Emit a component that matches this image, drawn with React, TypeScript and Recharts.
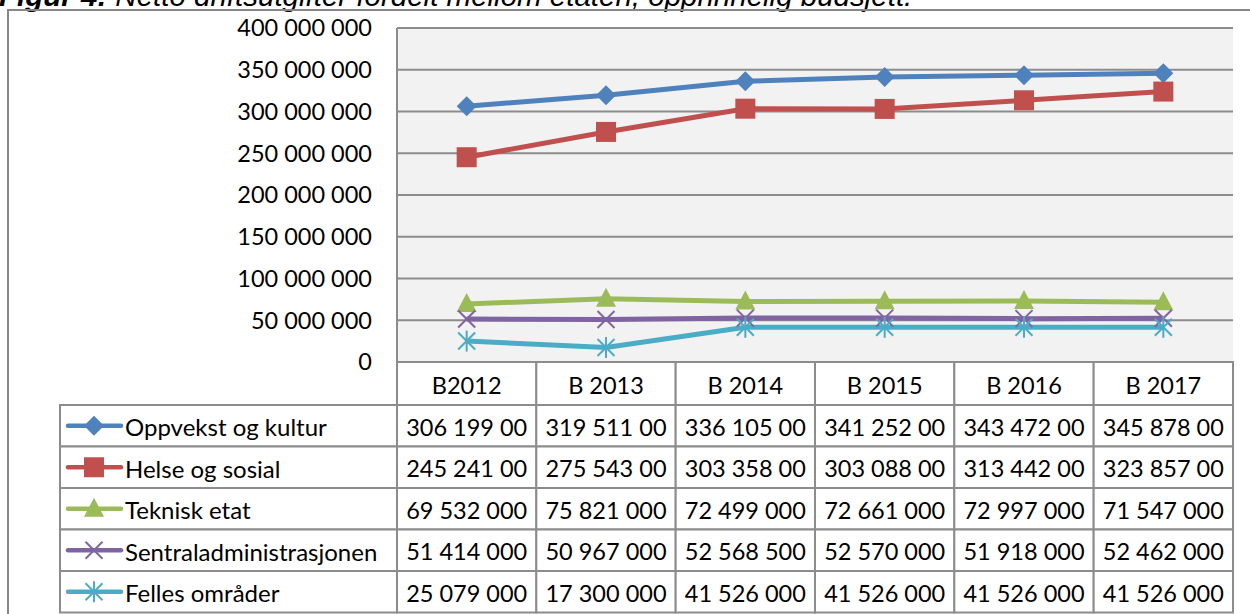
import React from 'react';
import { LineChart, Line, XAxis, YAxis, CartesianGrid, Legend } from 'recharts';

const categories = ['B2012', 'B 2013', 'B 2014', 'B 2015', 'B 2016', 'B 2017'];
const seriesNames = ['Oppvekst og kultur', 'Helse og sosial', 'Teknisk etat', 'Sentraladministrasjonen', 'Felles områder'];
const seriesKeys = ['oppvekst', 'helse', 'teknisk', 'sentral', 'felles'];
const seriesColors = ['#4F81BD', '#C0504D', '#9BBB59', '#8064A2', '#4BACC6'];
const oppvekst = [306199000, 319511000, 336105000, 341252000, 343472000, 345878000];
const helse = [245241000, 275543000, 303358000, 303088000, 313442000, 323857000];
const teknisk = [69532000, 75821000, 72499000, 72661000, 72997000, 71547000];
const sentral = [51414000, 50967000, 52568500, 52570000, 51918000, 52462000];
const felles = [25079000, 17300000, 41526000, 41526000, 41526000, 41526000];
const yTicks = [0, 50000000, 100000000, 150000000, 200000000, 250000000, 300000000, 350000000, 400000000];
const title = 'Figur 4:';
const titleRest = ' Netto driftsutgifter fordelt mellom etaten, opprinnelig budsjett.';

const seriesValues = [oppvekst, helse, teknisk, sentral, felles];
const data = categories.map((c, i) => {
  const row: any = { name: c };
  seriesKeys.forEach((k, s) => { row[k] = seriesValues[s][i]; });
  return row;
});

const FONT = 'Lato, sans-serif';
const FS = 23.5;
const GRID = '#8C8C8C';
const HEADER_H = 43;
const ROW_H = 41.5;
const CELL_CHARS = 10;

const fmt = (v: number) => String(Math.round(v)).replace(/\B(?=(\d{3})+(?!\d))/g, ' ');

const Marker = ({ type, cx, cy, color }: { type: number; cx: number; cy: number; color: string }) => {
  if (type === 0) {
    const r = 10;
    return <polygon points={`${cx},${cy - r} ${cx + r},${cy} ${cx},${cy + r} ${cx - r},${cy}`} fill={color} />;
  }
  if (type === 1) {
    return <rect x={cx - 10} y={cy - 10} width={20} height={20} fill={color} />;
  }
  if (type === 2) {
    return <polygon points={`${cx},${cy - 11} ${cx + 10},${cy + 8} ${cx - 10},${cy + 8}`} fill={color} />;
  }
  if (type === 3) {
    const r = 8.5;
    return (
      <g stroke={color} strokeWidth={2}>
        <line x1={cx - r} y1={cy - r} x2={cx + r} y2={cy + r} />
        <line x1={cx - r} y1={cy + r} x2={cx + r} y2={cy - r} />
      </g>
    );
  }
  const r = 8.5;
  return (
    <g stroke={color} strokeWidth={2}>
      <line x1={cx - r} y1={cy - r} x2={cx + r} y2={cy + r} />
      <line x1={cx - r} y1={cy + r} x2={cx + r} y2={cy - r} />
      <line x1={cx} y1={cy - r - 2} x2={cx} y2={cy + r + 2} />
    </g>
  );
};

const makeDot = (s: number) => (p: any) => (
  <Marker key={`d-${s}-${p.index}`} type={s} cx={p.cx} cy={p.cy} color={seriesColors[s]} />
);

const TableTick = (props: any) => {
  const { x, y, payload, width, visibleTicksCount } = props;
  const bw = payload && payload.offset ? payload.offset * 2 : width / visibleTicksCount;
  const left = x - bw / 2;
  const idx = categories.indexOf(payload.value);
  return (
    <g>
      <rect x={left} y={y} width={bw} height={HEADER_H} fill="#fff" stroke={GRID} strokeWidth={2} />
      <text x={x} y={y + HEADER_H / 2 + 1} textAnchor="middle" dominantBaseline="central" fontFamily={FONT} fontSize={FS} fill="#000">
        {payload.value}
      </text>
      {seriesValues.map((vals, s) => {
        const top = y + HEADER_H + s * ROW_H;
        return (
          <g key={s}>
            <rect x={left} y={top} width={bw} height={ROW_H} fill="#fff" stroke={GRID} strokeWidth={2} />
            <text x={x} y={top + ROW_H / 2 + 1} textAnchor="middle" dominantBaseline="central" fontFamily={FONT} fontSize={FS} fill="#000">
              {fmt(vals[idx]).slice(0, CELL_CHARS)}
            </text>
          </g>
        );
      })}
    </g>
  );
};

const LegendTable = (props: any) => {
  const payload = props.payload || [];
  const w = 337;
  return (
    <svg width={w + 4} height={ROW_H * 5 + 4} style={{ display: 'block', overflow: 'visible' }}>
      {seriesKeys.map((k, s) => {
        const item = payload.find((p: any) => p.dataKey === k);
        const color = item ? item.color : seriesColors[s];
        const label = item ? item.value : seriesNames[s];
        const top = 1 + s * ROW_H;
        const cy = top + ROW_H / 2;
        return (
          <g key={k}>
            <rect x={1} y={top} width={w} height={ROW_H} fill="#fff" stroke={GRID} strokeWidth={2} />
            <line x1={9} y1={cy} x2={62} y2={cy} stroke={color} strokeWidth={4.5} strokeLinecap="round" />
            <Marker type={s} cx={35} cy={cy} color={color} />
            <text x={66} y={cy + 1} dominantBaseline="central" fontFamily={FONT} fontSize={24} fill="#000">
              {label}
            </text>
          </g>
        );
      })}
    </svg>
  );
};

export default function App() {
  return (
    <div style={{ position: 'absolute', left: 0, top: 0, width: 1250, height: 614, overflow: 'hidden', background: '#fff' }}>
      <svg width={1250} height={20} style={{ position: 'absolute', left: 0, top: 0 }}>
        <text x={-1} y={5.5} fontFamily="'Liberation Sans', Arial, sans-serif" fontSize={29.5} fontStyle="italic" fill="#000">
          <tspan fontWeight="bold">{title}</tspan>
          <tspan>{titleRest}</tspan>
        </text>
      </svg>
      <div style={{ position: 'absolute', left: 7, top: 9, width: 1260, height: 620, border: '2px solid #878787', boxSizing: 'border-box' }} />
      <div style={{ position: 'absolute', left: 0, top: 0 }}>
        <LineChart width={1250} height={614} data={data} margin={{ top: 28, right: 17, bottom: 0, left: 297 }}>
          <CartesianGrid vertical={false} horizontal={true} stroke={GRID} strokeWidth={2} fill="#F2F2F2" fillOpacity={1} />
          <XAxis
            dataKey="name"
            scale="band"
            height={252}
            interval={0}
            axisLine={false}
            tickLine={false}
            tickSize={0}
            tickMargin={0}
            tick={<TableTick />}
          />
          <YAxis
            width={100}
            domain={[0, 400000000]}
            ticks={yTicks}
            interval={0}
            axisLine={{ stroke: GRID, strokeWidth: 2 }}
            tickLine={false}
            tickSize={0}
            tickMargin={25}
            tickFormatter={(v: number) => fmt(v)}
            tick={{ fontFamily: FONT, fontSize: FS, fill: '#000' }}
          />
          <Legend
            layout="vertical"
            align="center"
            verticalAlign="middle"
            wrapperStyle={{ left: 59, top: 404, width: 342, height: 214 }}
            content={<LegendTable />}
          />
          {seriesKeys.map((k, s) => (
            <Line
              key={k}
              dataKey={k}
              name={seriesNames[s]}
              stroke={seriesColors[s]}
              strokeWidth={5}
              dot={makeDot(s)}
              activeDot={false}
              isAnimationActive={false}
            />
          ))}
        </LineChart>
      </div>
    </div>
  );
}
